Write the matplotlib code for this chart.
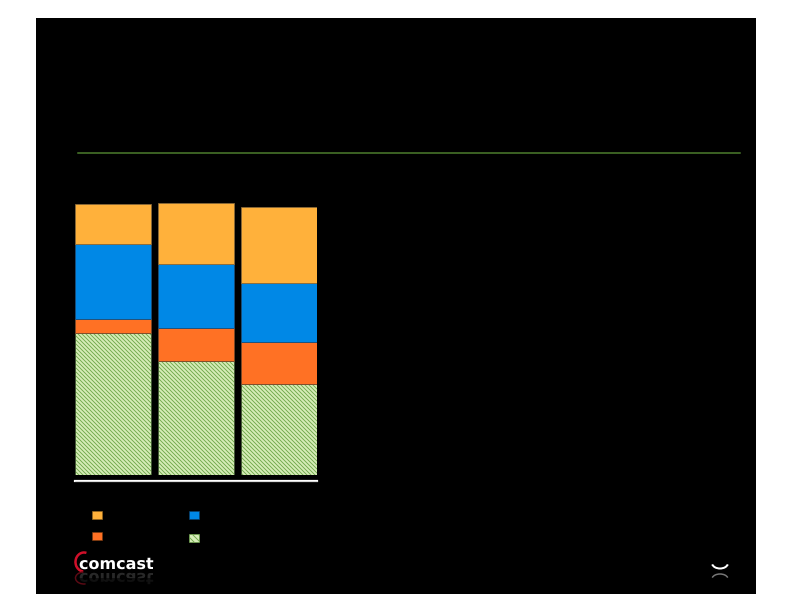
import numpy as np
import matplotlib
matplotlib.use("Agg")
import matplotlib.pyplot as plt
from matplotlib.patches import Rectangle, Arc, PathPatch
from matplotlib.textpath import TextPath
from matplotlib.font_manager import FontProperties
from matplotlib.transforms import Affine2D

# stacked shares per bar, bottom to top
bars = ["A", "B", "C"]
green_vals = [52.2, 42.0, 33.3]
orange_vals = [5.3, 11.9, 15.7]
blue_vals = [27.3, 23.5, 21.7]
yellow_vals = [14.8, 22.5, 27.8]

c_yellow = "#FFB13B"
c_blue = "#0088E6"
c_orange = "#FF7124"
c_green_fill = "#D6EDB8"
c_green_line = "#6FA84A"

W, H = 792, 612
fig = plt.figure(figsize=(W / 72, H / 72), dpi=72)
fig.patch.set_facecolor("white")

# background layer in pixel coordinates (y grows downward)
bg = fig.add_axes([0, 0, 1, 1], zorder=-1)
bg.set_xlim(0, W)
bg.set_ylim(H, 0)
bg.axis("off")
bg.add_patch(Rectangle((36, 18), 720, 576, facecolor="black", edgecolor="none"))

# green rule under the (empty) title area
bg.plot([78, 740], [153, 153], color="#4E7F2E", lw=1.5)

# baseline under bars
bg.plot([75, 317], [480.5, 480.5], color="white", lw=2.2)
bg.plot([75, 317], [480.5, 480.5], color="#bbbbbb", lw=0.6)

# legend markers (no visible labels in the original)
leg_items = [(92, 511, c_yellow, None, "#9a6a20"),
             (189, 511, c_blue, None, "#0a3f6a"),
             (92, 532, c_orange, None, "#7a3a10"),
             (189, 534, c_green_fill, "\\\\\\\\", c_green_line)]
plt.rcParams["hatch.linewidth"] = 0.9
for lx, ly, col, hat, ec in leg_items:
    bg.add_patch(Rectangle((lx, ly), 9.5, 7.5, facecolor=col, edgecolor=ec,
                           hatch=hat, lw=0.6))

# comcast logo with reflection
fp = FontProperties(family="DejaVu Sans", weight="bold")
tp = TextPath((0, 0), "comcast", size=16, prop=fp)
bg.add_patch(PathPatch(tp, transform=Affine2D().scale(1, -1).translate(79, 569) + bg.transData,
                       facecolor="white", edgecolor="none"))
bg.add_patch(PathPatch(tp, transform=Affine2D().translate(79, 573) + bg.transData,
                       facecolor="#666666", edgecolor="none", alpha=0.4))
bg.add_patch(Rectangle((70, 578), 100, 12, facecolor="black", edgecolor="none", alpha=0.6))
bg.add_patch(Arc((84, 562), 17, 19, theta1=95, theta2=285, color="#D0102A", lw=2.5))
bg.add_patch(Arc((84, 578), 17, 12, theta1=75, theta2=265, color="#5a0a14", lw=1.5))

# small arc at bottom right
bg.add_patch(Arc((720, 563), 16, 11, theta1=10, theta2=170, color="white", lw=2))
bg.add_patch(Arc((720, 579), 16, 10, theta1=190, theta2=350, color="#777777", lw=1.5))

# bars
ax = fig.add_axes([75 / W, 1 - 475 / H, 242 / W, 272 / H])
ax.set_facecolor("none")
x = np.arange(len(bars))
w = 0.913
g = np.array(green_vals)
o = np.array(orange_vals)
b = np.array(blue_vals)
y = np.array(yellow_vals)

ax.bar(x, g, w, color=c_green_fill, edgecolor=c_green_line, hatch="\\\\\\\\\\\\", lw=0.6)
ax.bar(x, g, w, color="none", edgecolor="#3a4a30", lw=0.8)
ax.bar(x, o, w, bottom=g, color=c_orange, edgecolor="#7a4a2a", lw=0.8)
ax.bar(x, b, w, bottom=g + o, color=c_blue, edgecolor="#1c4f7a", lw=0.8)
ax.bar(x, y, w, bottom=g + o + b, color=c_yellow, edgecolor="#8a6a3a", lw=0.8)

ax.set_xlim(-w / 2, len(bars) - 1 + w / 2)
ax.set_ylim(0, 100)
ax.axis("off")

fig.savefig("out.png", dpi=72, facecolor=fig.get_facecolor())
